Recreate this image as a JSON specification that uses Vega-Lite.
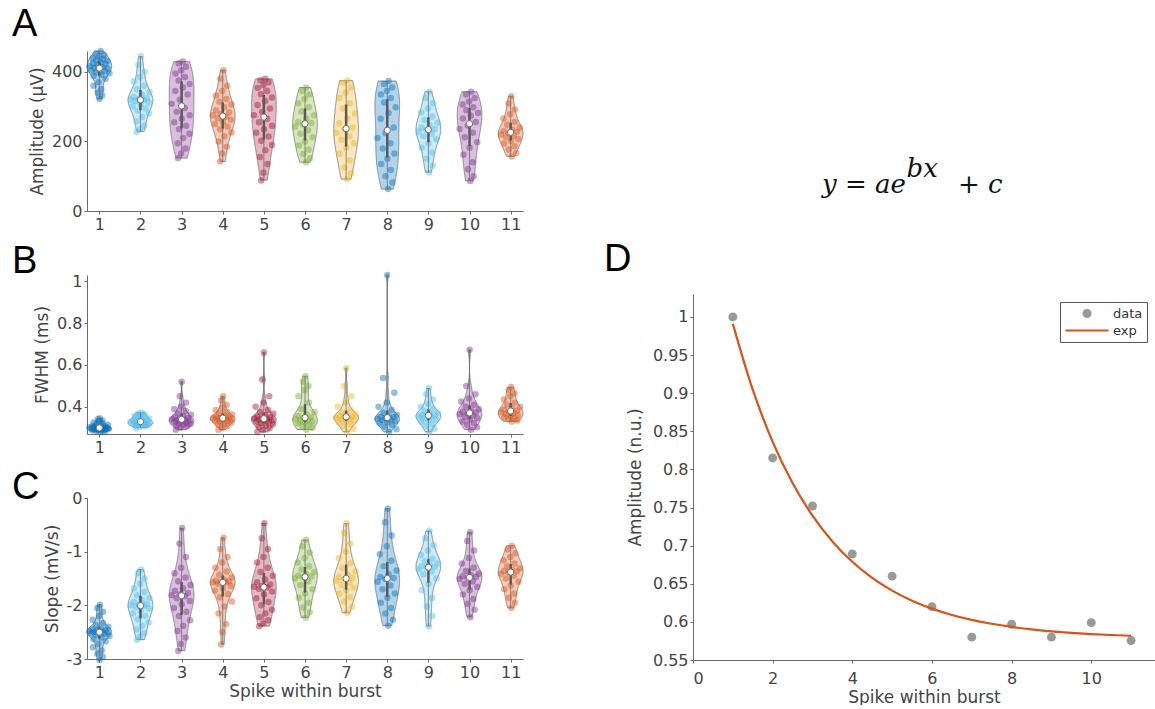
{
"$schema": "https://vega.github.io/schema/vega-lite/v6.json",
"background": "white",
"padding": {"left": 12, "top": 5, "right": 0, "bottom": 0},
"autosize": {"type": "pad"},
"config": {
  "view": {"stroke": null},
  "font": "DejaVu Sans",
  "axis": {"domainColor": "#6b6b6b", "tickColor": "#6b6b6b", "labelColor": "#444", "titleColor": "#444", "labelFont": "DejaVu Sans", "titleFont": "DejaVu Sans", "labelFontSize": 16, "titleFontSize": 17, "titleFontWeight": "normal", "grid": false, "tickSize": 3, "labelPadding": 2}
},
"datasets": {
"amp": [
{"s":1,"v":460},{"s":1,"v":452},{"s":1,"v":448},{"s":1,"v":445},{"s":1,"v":440},{"s":1,"v":437},{"s":1,"v":434},{"s":1,"v":431},{"s":1,"v":428},{"s":1,"v":425},{"s":1,"v":422},{"s":1,"v":419},{"s":1,"v":416},{"s":1,"v":413},{"s":1,"v":411},{"s":1,"v":410},{"s":1,"v":408},{"s":1,"v":405},{"s":1,"v":402},{"s":1,"v":399},{"s":1,"v":396},{"s":1,"v":392},{"s":1,"v":388},{"s":1,"v":380},{"s":1,"v":370},{"s":1,"v":360},{"s":1,"v":350},{"s":1,"v":340},{"s":1,"v":332},{"s":1,"v":322},
{"s":2,"v":445},{"s":2,"v":420},{"s":2,"v":400},{"s":2,"v":385},{"s":2,"v":372},{"s":2,"v":360},{"s":2,"v":350},{"s":2,"v":342},{"s":2,"v":335},{"s":2,"v":328},{"s":2,"v":325},{"s":2,"v":322},{"s":2,"v":320},{"s":2,"v":319},{"s":2,"v":316},{"s":2,"v":312},{"s":2,"v":307},{"s":2,"v":301},{"s":2,"v":295},{"s":2,"v":288},{"s":2,"v":280},{"s":2,"v":270},{"s":2,"v":258},{"s":2,"v":245},{"s":2,"v":235},{"s":2,"v":228},
{"s":3,"v":430},{"s":3,"v":425},{"s":3,"v":415},{"s":3,"v":405},{"s":3,"v":395},{"s":3,"v":385},{"s":3,"v":375},{"s":3,"v":365},{"s":3,"v":355},{"s":3,"v":345},{"s":3,"v":335},{"s":3,"v":320},{"s":3,"v":308},{"s":3,"v":296},{"s":3,"v":285},{"s":3,"v":275},{"s":3,"v":265},{"s":3,"v":255},{"s":3,"v":245},{"s":3,"v":235},{"s":3,"v":222},{"s":3,"v":210},{"s":3,"v":195},{"s":3,"v":180},{"s":3,"v":165},{"s":3,"v":152},
{"s":4,"v":405},{"s":4,"v":380},{"s":4,"v":360},{"s":4,"v":345},{"s":4,"v":332},{"s":4,"v":322},{"s":4,"v":314},{"s":4,"v":306},{"s":4,"v":298},{"s":4,"v":290},{"s":4,"v":284},{"s":4,"v":279},{"s":4,"v":275},{"s":4,"v":271},{"s":4,"v":267},{"s":4,"v":262},{"s":4,"v":256},{"s":4,"v":250},{"s":4,"v":243},{"s":4,"v":235},{"s":4,"v":226},{"s":4,"v":215},{"s":4,"v":200},{"s":4,"v":185},{"s":4,"v":165},{"s":4,"v":142},
{"s":5,"v":380},{"s":5,"v":376},{"s":5,"v":370},{"s":5,"v":362},{"s":5,"v":354},{"s":5,"v":345},{"s":5,"v":336},{"s":5,"v":326},{"s":5,"v":316},{"s":5,"v":305},{"s":5,"v":295},{"s":5,"v":285},{"s":5,"v":275},{"s":5,"v":265},{"s":5,"v":255},{"s":5,"v":245},{"s":5,"v":235},{"s":5,"v":225},{"s":5,"v":214},{"s":5,"v":202},{"s":5,"v":190},{"s":5,"v":175},{"s":5,"v":155},{"s":5,"v":135},{"s":5,"v":110},{"s":5,"v":88},
{"s":6,"v":355},{"s":6,"v":345},{"s":6,"v":335},{"s":6,"v":322},{"s":6,"v":310},{"s":6,"v":298},{"s":6,"v":286},{"s":6,"v":275},{"s":6,"v":265},{"s":6,"v":256},{"s":6,"v":253},{"s":6,"v":249},{"s":6,"v":242},{"s":6,"v":232},{"s":6,"v":222},{"s":6,"v":212},{"s":6,"v":200},{"s":6,"v":188},{"s":6,"v":176},{"s":6,"v":164},{"s":6,"v":152},{"s":6,"v":140},
{"s":7,"v":375},{"s":7,"v":368},{"s":7,"v":355},{"s":7,"v":340},{"s":7,"v":325},{"s":7,"v":310},{"s":7,"v":295},{"s":7,"v":280},{"s":7,"v":266},{"s":7,"v":252},{"s":7,"v":240},{"s":7,"v":234},{"s":7,"v":225},{"s":7,"v":215},{"s":7,"v":205},{"s":7,"v":195},{"s":7,"v":182},{"s":7,"v":165},{"s":7,"v":145},{"s":7,"v":125},{"s":7,"v":108},{"s":7,"v":91},
{"s":8,"v":374},{"s":8,"v":365},{"s":8,"v":355},{"s":8,"v":345},{"s":8,"v":335},{"s":8,"v":325},{"s":8,"v":312},{"s":8,"v":298},{"s":8,"v":282},{"s":8,"v":265},{"s":8,"v":240},{"s":8,"v":224},{"s":8,"v":210},{"s":8,"v":195},{"s":8,"v":180},{"s":8,"v":165},{"s":8,"v":150},{"s":8,"v":135},{"s":8,"v":118},{"s":8,"v":100},{"s":8,"v":82},{"s":8,"v":63},
{"s":9,"v":343},{"s":9,"v":325},{"s":9,"v":310},{"s":9,"v":295},{"s":9,"v":283},{"s":9,"v":272},{"s":9,"v":262},{"s":9,"v":254},{"s":9,"v":246},{"s":9,"v":240},{"s":9,"v":236},{"s":9,"v":232},{"s":9,"v":228},{"s":9,"v":222},{"s":9,"v":215},{"s":9,"v":206},{"s":9,"v":195},{"s":9,"v":182},{"s":9,"v":168},{"s":9,"v":150},{"s":9,"v":130},{"s":9,"v":111},
{"s":10,"v":343},{"s":10,"v":335},{"s":10,"v":325},{"s":10,"v":315},{"s":10,"v":306},{"s":10,"v":298},{"s":10,"v":290},{"s":10,"v":282},{"s":10,"v":274},{"s":10,"v":266},{"s":10,"v":256},{"s":10,"v":246},{"s":10,"v":236},{"s":10,"v":225},{"s":10,"v":212},{"s":10,"v":198},{"s":10,"v":182},{"s":10,"v":162},{"s":10,"v":140},{"s":10,"v":120},{"s":10,"v":100},{"s":10,"v":86},
{"s":11,"v":330},{"s":11,"v":310},{"s":11,"v":292},{"s":11,"v":278},{"s":11,"v":266},{"s":11,"v":256},{"s":11,"v":248},{"s":11,"v":240},{"s":11,"v":234},{"s":11,"v":230},{"s":11,"v":228},{"s":11,"v":224},{"s":11,"v":220},{"s":11,"v":216},{"s":11,"v":212},{"s":11,"v":207},{"s":11,"v":201},{"s":11,"v":194},{"s":11,"v":186},{"s":11,"v":177},{"s":11,"v":167},{"s":11,"v":157}
],
"fwhm": [
{"s":1,"v":0.345},{"s":1,"v":0.34},{"s":1,"v":0.335},{"s":1,"v":0.33},{"s":1,"v":0.325},{"s":1,"v":0.32},{"s":1,"v":0.317},{"s":1,"v":0.314},{"s":1,"v":0.311},{"s":1,"v":0.308},{"s":1,"v":0.306},{"s":1,"v":0.304},{"s":1,"v":0.302},{"s":1,"v":0.301},{"s":1,"v":0.3},{"s":1,"v":0.299},{"s":1,"v":0.298},{"s":1,"v":0.297},{"s":1,"v":0.296},{"s":1,"v":0.295},{"s":1,"v":0.294},{"s":1,"v":0.293},{"s":1,"v":0.292},{"s":1,"v":0.291},{"s":1,"v":0.29},{"s":1,"v":0.288},{"s":1,"v":0.286},{"s":1,"v":0.284},{"s":1,"v":0.282},{"s":1,"v":0.28},
{"s":2,"v":0.372},{"s":2,"v":0.368},{"s":2,"v":0.364},{"s":2,"v":0.36},{"s":2,"v":0.356},{"s":2,"v":0.352},{"s":2,"v":0.348},{"s":2,"v":0.344},{"s":2,"v":0.34},{"s":2,"v":0.337},{"s":2,"v":0.334},{"s":2,"v":0.332},{"s":2,"v":0.33},{"s":2,"v":0.328},{"s":2,"v":0.326},{"s":2,"v":0.324},{"s":2,"v":0.322},{"s":2,"v":0.32},{"s":2,"v":0.318},{"s":2,"v":0.316},{"s":2,"v":0.314},{"s":2,"v":0.312},{"s":2,"v":0.31},{"s":2,"v":0.307},{"s":2,"v":0.304},{"s":2,"v":0.3},
{"s":3,"v":0.52},{"s":3,"v":0.45},{"s":3,"v":0.42},{"s":3,"v":0.4},{"s":3,"v":0.39},{"s":3,"v":0.38},{"s":3,"v":0.37},{"s":3,"v":0.362},{"s":3,"v":0.356},{"s":3,"v":0.35},{"s":3,"v":0.346},{"s":3,"v":0.343},{"s":3,"v":0.341},{"s":3,"v":0.339},{"s":3,"v":0.336},{"s":3,"v":0.333},{"s":3,"v":0.33},{"s":3,"v":0.327},{"s":3,"v":0.324},{"s":3,"v":0.321},{"s":3,"v":0.318},{"s":3,"v":0.315},{"s":3,"v":0.311},{"s":3,"v":0.307},{"s":3,"v":0.3},{"s":3,"v":0.29},
{"s":4,"v":0.45},{"s":4,"v":0.43},{"s":4,"v":0.41},{"s":4,"v":0.395},{"s":4,"v":0.385},{"s":4,"v":0.376},{"s":4,"v":0.369},{"s":4,"v":0.363},{"s":4,"v":0.358},{"s":4,"v":0.354},{"s":4,"v":0.35},{"s":4,"v":0.348},{"s":4,"v":0.347},{"s":4,"v":0.345},{"s":4,"v":0.343},{"s":4,"v":0.341},{"s":4,"v":0.338},{"s":4,"v":0.335},{"s":4,"v":0.332},{"s":4,"v":0.329},{"s":4,"v":0.325},{"s":4,"v":0.32},{"s":4,"v":0.315},{"s":4,"v":0.308},{"s":4,"v":0.3},{"s":4,"v":0.29},
{"s":5,"v":0.66},{"s":5,"v":0.53},{"s":5,"v":0.45},{"s":5,"v":0.42},{"s":5,"v":0.4},{"s":5,"v":0.385},{"s":5,"v":0.375},{"s":5,"v":0.367},{"s":5,"v":0.36},{"s":5,"v":0.354},{"s":5,"v":0.349},{"s":5,"v":0.346},{"s":5,"v":0.344},{"s":5,"v":0.342},{"s":5,"v":0.339},{"s":5,"v":0.336},{"s":5,"v":0.333},{"s":5,"v":0.33},{"s":5,"v":0.326},{"s":5,"v":0.322},{"s":5,"v":0.317},{"s":5,"v":0.311},{"s":5,"v":0.304},{"s":5,"v":0.297},{"s":5,"v":0.289},{"s":5,"v":0.28},
{"s":6,"v":0.547},{"s":6,"v":0.52},{"s":6,"v":0.5},{"s":6,"v":0.48},{"s":6,"v":0.45},{"s":6,"v":0.42},{"s":6,"v":0.39},{"s":6,"v":0.375},{"s":6,"v":0.365},{"s":6,"v":0.356},{"s":6,"v":0.35},{"s":6,"v":0.346},{"s":6,"v":0.342},{"s":6,"v":0.338},{"s":6,"v":0.334},{"s":6,"v":0.33},{"s":6,"v":0.325},{"s":6,"v":0.32},{"s":6,"v":0.314},{"s":6,"v":0.307},{"s":6,"v":0.3},{"s":6,"v":0.29},
{"s":7,"v":0.586},{"s":7,"v":0.5},{"s":7,"v":0.45},{"s":7,"v":0.42},{"s":7,"v":0.4},{"s":7,"v":0.385},{"s":7,"v":0.373},{"s":7,"v":0.365},{"s":7,"v":0.36},{"s":7,"v":0.356},{"s":7,"v":0.354},{"s":7,"v":0.35},{"s":7,"v":0.347},{"s":7,"v":0.344},{"s":7,"v":0.34},{"s":7,"v":0.336},{"s":7,"v":0.331},{"s":7,"v":0.325},{"s":7,"v":0.318},{"s":7,"v":0.308},{"s":7,"v":0.295},{"s":7,"v":0.28},
{"s":8,"v":1.03},{"s":8,"v":0.538},{"s":8,"v":0.467},{"s":8,"v":0.42},{"s":8,"v":0.4},{"s":8,"v":0.385},{"s":8,"v":0.372},{"s":8,"v":0.362},{"s":8,"v":0.356},{"s":8,"v":0.352},{"s":8,"v":0.35},{"s":8,"v":0.346},{"s":8,"v":0.343},{"s":8,"v":0.34},{"s":8,"v":0.336},{"s":8,"v":0.332},{"s":8,"v":0.327},{"s":8,"v":0.321},{"s":8,"v":0.314},{"s":8,"v":0.305},{"s":8,"v":0.293},{"s":8,"v":0.28},
{"s":9,"v":0.49},{"s":9,"v":0.46},{"s":9,"v":0.435},{"s":9,"v":0.415},{"s":9,"v":0.4},{"s":9,"v":0.39},{"s":9,"v":0.38},{"s":9,"v":0.372},{"s":9,"v":0.366},{"s":9,"v":0.362},{"s":9,"v":0.36},{"s":9,"v":0.358},{"s":9,"v":0.354},{"s":9,"v":0.35},{"s":9,"v":0.345},{"s":9,"v":0.34},{"s":9,"v":0.334},{"s":9,"v":0.327},{"s":9,"v":0.318},{"s":9,"v":0.307},{"s":9,"v":0.295},{"s":9,"v":0.28},
{"s":10,"v":0.673},{"s":10,"v":0.5},{"s":10,"v":0.46},{"s":10,"v":0.44},{"s":10,"v":0.425},{"s":10,"v":0.41},{"s":10,"v":0.4},{"s":10,"v":0.39},{"s":10,"v":0.382},{"s":10,"v":0.376},{"s":10,"v":0.373},{"s":10,"v":0.369},{"s":10,"v":0.364},{"s":10,"v":0.358},{"s":10,"v":0.352},{"s":10,"v":0.345},{"s":10,"v":0.338},{"s":10,"v":0.33},{"s":10,"v":0.322},{"s":10,"v":0.313},{"s":10,"v":0.302},{"s":10,"v":0.29},
{"s":11,"v":0.495},{"s":11,"v":0.48},{"s":11,"v":0.465},{"s":11,"v":0.45},{"s":11,"v":0.435},{"s":11,"v":0.42},{"s":11,"v":0.41},{"s":11,"v":0.4},{"s":11,"v":0.393},{"s":11,"v":0.387},{"s":11,"v":0.382},{"s":11,"v":0.378},{"s":11,"v":0.374},{"s":11,"v":0.37},{"s":11,"v":0.365},{"s":11,"v":0.36},{"s":11,"v":0.355},{"s":11,"v":0.35},{"s":11,"v":0.345},{"s":11,"v":0.34},{"s":11,"v":0.335},{"s":11,"v":0.33}
],
"slope": [
{"s":1,"v":-1.99},{"s":1,"v":-2.05},{"s":1,"v":-2.12},{"s":1,"v":-2.2},{"s":1,"v":-2.27},{"s":1,"v":-2.33},{"s":1,"v":-2.37},{"s":1,"v":-2.4},{"s":1,"v":-2.43},{"s":1,"v":-2.45},{"s":1,"v":-2.46},{"s":1,"v":-2.47},{"s":1,"v":-2.48},{"s":1,"v":-2.49},{"s":1,"v":-2.495},{"s":1,"v":-2.505},{"s":1,"v":-2.51},{"s":1,"v":-2.52},{"s":1,"v":-2.53},{"s":1,"v":-2.55},{"s":1,"v":-2.57},{"s":1,"v":-2.6},{"s":1,"v":-2.63},{"s":1,"v":-2.67},{"s":1,"v":-2.72},{"s":1,"v":-2.78},{"s":1,"v":-2.84},{"s":1,"v":-2.9},{"s":1,"v":-2.96},{"s":1,"v":-3.02},
{"s":2,"v":-1.33},{"s":2,"v":-1.4},{"s":2,"v":-1.5},{"s":2,"v":-1.6},{"s":2,"v":-1.68},{"s":2,"v":-1.75},{"s":2,"v":-1.81},{"s":2,"v":-1.86},{"s":2,"v":-1.9},{"s":2,"v":-1.94},{"s":2,"v":-1.97},{"s":2,"v":-1.99},{"s":2,"v":-2.0},{"s":2,"v":-2.01},{"s":2,"v":-2.03},{"s":2,"v":-2.06},{"s":2,"v":-2.1},{"s":2,"v":-2.15},{"s":2,"v":-2.2},{"s":2,"v":-2.26},{"s":2,"v":-2.32},{"s":2,"v":-2.38},{"s":2,"v":-2.45},{"s":2,"v":-2.52},{"s":2,"v":-2.58},{"s":2,"v":-2.64},
{"s":3,"v":-0.56},{"s":3,"v":-0.85},{"s":3,"v":-1.1},{"s":3,"v":-1.3},{"s":3,"v":-1.4},{"s":3,"v":-1.48},{"s":3,"v":-1.55},{"s":3,"v":-1.62},{"s":3,"v":-1.68},{"s":3,"v":-1.73},{"s":3,"v":-1.77},{"s":3,"v":-1.8},{"s":3,"v":-1.81},{"s":3,"v":-1.83},{"s":3,"v":-1.87},{"s":3,"v":-1.92},{"s":3,"v":-1.98},{"s":3,"v":-2.05},{"s":3,"v":-2.12},{"s":3,"v":-2.2},{"s":3,"v":-2.28},{"s":3,"v":-2.38},{"s":3,"v":-2.48},{"s":3,"v":-2.6},{"s":3,"v":-2.72},{"s":3,"v":-2.85},
{"s":4,"v":-0.74},{"s":4,"v":-0.95},{"s":4,"v":-1.1},{"s":4,"v":-1.2},{"s":4,"v":-1.3},{"s":4,"v":-1.37},{"s":4,"v":-1.43},{"s":4,"v":-1.48},{"s":4,"v":-1.52},{"s":4,"v":-1.54},{"s":4,"v":-1.555},{"s":4,"v":-1.565},{"s":4,"v":-1.57},{"s":4,"v":-1.575},{"s":4,"v":-1.6},{"s":4,"v":-1.64},{"s":4,"v":-1.68},{"s":4,"v":-1.73},{"s":4,"v":-1.79},{"s":4,"v":-1.85},{"s":4,"v":-1.93},{"s":4,"v":-2.02},{"s":4,"v":-2.15},{"s":4,"v":-2.35},{"s":4,"v":-2.5},{"s":4,"v":-2.73},
{"s":5,"v":-0.47},{"s":5,"v":-0.75},{"s":5,"v":-0.95},{"s":5,"v":-1.1},{"s":5,"v":-1.2},{"s":5,"v":-1.3},{"s":5,"v":-1.38},{"s":5,"v":-1.45},{"s":5,"v":-1.52},{"s":5,"v":-1.57},{"s":5,"v":-1.61},{"s":5,"v":-1.64},{"s":5,"v":-1.655},{"s":5,"v":-1.665},{"s":5,"v":-1.69},{"s":5,"v":-1.74},{"s":5,"v":-1.8},{"s":5,"v":-1.87},{"s":5,"v":-1.94},{"s":5,"v":-2.0},{"s":5,"v":-2.08},{"s":5,"v":-2.15},{"s":5,"v":-2.22},{"s":5,"v":-2.28},{"s":5,"v":-2.34},{"s":5,"v":-2.39},
{"s":6,"v":-0.78},{"s":6,"v":-0.9},{"s":6,"v":-1.02},{"s":6,"v":-1.12},{"s":6,"v":-1.2},{"s":6,"v":-1.27},{"s":6,"v":-1.33},{"s":6,"v":-1.38},{"s":6,"v":-1.42},{"s":6,"v":-1.45},{"s":6,"v":-1.465},{"s":6,"v":-1.475},{"s":6,"v":-1.5},{"s":6,"v":-1.55},{"s":6,"v":-1.62},{"s":6,"v":-1.7},{"s":6,"v":-1.78},{"s":6,"v":-1.86},{"s":6,"v":-1.95},{"s":6,"v":-2.04},{"s":6,"v":-2.13},{"s":6,"v":-2.23},
{"s":7,"v":-0.47},{"s":7,"v":-0.65},{"s":7,"v":-0.85},{"s":7,"v":-1.0},{"s":7,"v":-1.12},{"s":7,"v":-1.22},{"s":7,"v":-1.3},{"s":7,"v":-1.37},{"s":7,"v":-1.43},{"s":7,"v":-1.47},{"s":7,"v":-1.49},{"s":7,"v":-1.51},{"s":7,"v":-1.54},{"s":7,"v":-1.58},{"s":7,"v":-1.62},{"s":7,"v":-1.67},{"s":7,"v":-1.72},{"s":7,"v":-1.78},{"s":7,"v":-1.85},{"s":7,"v":-1.93},{"s":7,"v":-2.03},{"s":7,"v":-2.14},
{"s":8,"v":-0.2},{"s":8,"v":-0.45},{"s":8,"v":-0.7},{"s":8,"v":-0.9},{"s":8,"v":-1.05},{"s":8,"v":-1.17},{"s":8,"v":-1.27},{"s":8,"v":-1.35},{"s":8,"v":-1.42},{"s":8,"v":-1.47},{"s":8,"v":-1.49},{"s":8,"v":-1.51},{"s":8,"v":-1.56},{"s":8,"v":-1.63},{"s":8,"v":-1.7},{"s":8,"v":-1.78},{"s":8,"v":-1.86},{"s":8,"v":-1.95},{"s":8,"v":-2.05},{"s":8,"v":-2.15},{"s":8,"v":-2.27},{"s":8,"v":-2.38},
{"s":9,"v":-0.61},{"s":9,"v":-0.75},{"s":9,"v":-0.88},{"s":9,"v":-0.98},{"s":9,"v":-1.06},{"s":9,"v":-1.13},{"s":9,"v":-1.18},{"s":9,"v":-1.22},{"s":9,"v":-1.25},{"s":9,"v":-1.27},{"s":9,"v":-1.28},{"s":9,"v":-1.3},{"s":9,"v":-1.33},{"s":9,"v":-1.37},{"s":9,"v":-1.42},{"s":9,"v":-1.5},{"s":9,"v":-1.6},{"s":9,"v":-1.72},{"s":9,"v":-1.86},{"s":9,"v":-2.02},{"s":9,"v":-2.2},{"s":9,"v":-2.39},
{"s":10,"v":-0.64},{"s":10,"v":-0.8},{"s":10,"v":-0.98},{"s":10,"v":-1.12},{"s":10,"v":-1.22},{"s":10,"v":-1.3},{"s":10,"v":-1.36},{"s":10,"v":-1.41},{"s":10,"v":-1.44},{"s":10,"v":-1.46},{"s":10,"v":-1.47},{"s":10,"v":-1.49},{"s":10,"v":-1.51},{"s":10,"v":-1.55},{"s":10,"v":-1.6},{"s":10,"v":-1.66},{"s":10,"v":-1.72},{"s":10,"v":-1.8},{"s":10,"v":-1.88},{"s":10,"v":-1.97},{"s":10,"v":-2.08},{"s":10,"v":-2.22},
{"s":11,"v":-0.89},{"s":11,"v":-0.96},{"s":11,"v":-1.03},{"s":11,"v":-1.1},{"s":11,"v":-1.16},{"s":11,"v":-1.22},{"s":11,"v":-1.27},{"s":11,"v":-1.31},{"s":11,"v":-1.34},{"s":11,"v":-1.36},{"s":11,"v":-1.37},{"s":11,"v":-1.39},{"s":11,"v":-1.41},{"s":11,"v":-1.45},{"s":11,"v":-1.5},{"s":11,"v":-1.56},{"s":11,"v":-1.63},{"s":11,"v":-1.7},{"s":11,"v":-1.78},{"s":11,"v":-1.86},{"s":11,"v":-1.95},{"s":11,"v":-2.05}
],
"dpts": [
{"x":1,"y":1.0},{"x":2,"y":0.815},{"x":3,"y":0.752},{"x":4,"y":0.689},{"x":5,"y":0.66},{"x":6,"y":0.62},{"x":7,"y":0.58},{"x":8,"y":0.597},{"x":9,"y":0.58},{"x":10,"y":0.599},{"x":11,"y":0.5755}
],
"fit": [
{"x":1,"y":0.991},{"x":1.5,"y":0.9045},{"x":2,"y":0.8361},{"x":2.5,"y":0.7821},{"x":3,"y":0.7393},{"x":3.5,"y":0.7055},{"x":4,"y":0.6788},{"x":4.5,"y":0.6577},{"x":5,"y":0.641},{"x":5.5,"y":0.6278},{"x":6,"y":0.6174},{"x":6.5,"y":0.6091},{"x":7,"y":0.6026},{"x":7.5,"y":0.5975},{"x":8,"y":0.5934},{"x":8.5,"y":0.5901},{"x":9,"y":0.5876},{"x":9.5,"y":0.5856},{"x":10,"y":0.584},{"x":10.5,"y":0.5828},{"x":11,"y":0.5818}
]
},
"hconcat": [
{
"vconcat": [
{
"width": 436, "height": 160,
"title": {"text": "A", "anchor": "start", "frame": "group", "dx": -75, "offset": 4, "fontSize": 38, "font": "Liberation Sans", "fontWeight": "normal", "color": "#000"},
"data": {"name": "amp"},
"encoding": {"color": {"field": "s", "type": "nominal", "scale": {"domain": [1,2,3,4,5,6,7,8,9,10,11], "range": ["#0072BD","#4DBEEE","#7E2F8E","#D95319","#A2142F","#77AC30","#EDB120","#0072BD","#4DBEEE","#7E2F8E","#D95319"]}, "legend": null}},
"layer": [
{"transform": [{"joinaggregate": [{"op": "min", "field": "v", "as": "lo"}, {"op": "max", "field": "v", "as": "hi"}], "groupby": ["s"]}, {"density": "v", "groupby": ["s", "lo", "hi"], "steps": 400, "as": ["v", "d"]}, {"filter": "datum.v >= datum.lo && datum.v <= datum.hi"}, {"joinaggregate": [{"op": "max", "field": "d", "as": "dm"}], "groupby": ["s"]}, {"calculate": "datum.s - 0.3*datum.d/datum.dm", "as": "xl"}, {"calculate": "datum.s + 0.3*datum.d/datum.dm", "as": "xr"}],
 "mark": {"type": "area", "orient": "horizontal", "fillOpacity": 0.3, "stroke": "#6e6e6e", "strokeWidth": 0.8},
 "encoding": {"y": {"field": "v", "type": "quantitative", "title": "Amplitude (μV)", "scale": {"domain": [0, 460], "nice": false}, "axis": {"values": [0,100,200,300,400], "titlePadding": 5}}, "x": {"field": "xl", "type": "quantitative", "title": null, "scale": {"domain": [0.7, 11.3], "nice": false, "zero": false}, "axis": {"values": [1,2,3,4,5,6,7,8,9,10,11], "format": "d"}}, "x2": {"field": "xr"}}},
{"transform": [{"window": [{"op": "row_number", "as": "rn"}], "groupby": ["s"]}, {"joinaggregate": [{"op": "mean", "field": "v", "as": "mu"}, {"op": "stdev", "field": "v", "as": "sd"}], "groupby": ["s"]}, {"calculate": "datum.s + 0.26*(2*((datum.rn*0.618034)%1)-1)*exp(-0.5*pow((datum.v-datum.mu)/(1.3*datum.sd),2))", "as": "xj"}],
 "mark": {"type": "circle", "size": 42, "opacity": 0.45},
 "encoding": {"x": {"field": "xj", "type": "quantitative", "title": null}, "y": {"field": "v", "type": "quantitative", "title": "Amplitude (μV)"}}},
{"transform": [{"aggregate": [{"op": "min", "field": "v", "as": "lo"}, {"op": "max", "field": "v", "as": "hi"}], "groupby": ["s"]}],
 "mark": {"type": "rule", "strokeWidth": 0.8},
 "encoding": {"x": {"field": "s", "type": "quantitative", "title": null}, "y": {"field": "lo", "type": "quantitative", "title": "Amplitude (μV)"}, "y2": {"field": "hi"}, "color": {"value": "#6e6e6e"}}},
{"transform": [{"aggregate": [{"op": "q1", "field": "v", "as": "q1"}, {"op": "q3", "field": "v", "as": "q3"}], "groupby": ["s"]}],
 "mark": {"type": "rule", "strokeWidth": 2.5},
 "encoding": {"x": {"field": "s", "type": "quantitative", "title": null}, "y": {"field": "q1", "type": "quantitative", "title": "Amplitude (μV)"}, "y2": {"field": "q3"}, "color": {"value": "#5a5a5a"}}},
{"transform": [{"aggregate": [{"op": "median", "field": "v", "as": "md"}], "groupby": ["s"]}],
 "mark": {"type": "circle", "size": 40, "opacity": 1, "stroke": "#6e6e6e", "strokeWidth": 1},
 "encoding": {"x": {"field": "s", "type": "quantitative", "title": null}, "y": {"field": "md", "type": "quantitative", "title": "Amplitude (μV)"}, "color": {"value": "#ffffff"}}}
]
},
{
"width": 436, "height": 159,
"title": {"text": "B", "anchor": "start", "frame": "group", "dx": -75, "offset": -9, "fontSize": 38, "font": "Liberation Sans", "fontWeight": "normal", "color": "#000"},
"data": {"name": "fwhm"},
"encoding": {"color": {"field": "s", "type": "nominal", "scale": {"domain": [1,2,3,4,5,6,7,8,9,10,11], "range": ["#0072BD","#4DBEEE","#7E2F8E","#D95319","#A2142F","#77AC30","#EDB120","#0072BD","#4DBEEE","#7E2F8E","#D95319"]}, "legend": null}},
"layer": [
{"transform": [{"joinaggregate": [{"op": "min", "field": "v", "as": "lo"}, {"op": "max", "field": "v", "as": "hi"}], "groupby": ["s"]}, {"density": "v", "groupby": ["s", "lo", "hi"], "steps": 400, "as": ["v", "d"]}, {"filter": "datum.v >= datum.lo && datum.v <= datum.hi"}, {"joinaggregate": [{"op": "max", "field": "d", "as": "dm"}], "groupby": ["s"]}, {"calculate": "datum.s - 0.3*datum.d/datum.dm", "as": "xl"}, {"calculate": "datum.s + 0.3*datum.d/datum.dm", "as": "xr"}],
 "mark": {"type": "area", "orient": "horizontal", "fillOpacity": 0.3, "stroke": "#6e6e6e", "strokeWidth": 0.8},
 "encoding": {"y": {"field": "v", "type": "quantitative", "title": "FWHM (ms)", "scale": {"domain": [0.27, 1.03], "nice": false, "zero": false}, "axis": {"values": [0.4,0.6,0.8,1], "format": ".1~f", "titlePadding": 5}}, "x": {"field": "xl", "type": "quantitative", "title": null, "scale": {"domain": [0.7, 11.3], "nice": false, "zero": false}, "axis": {"values": [1,2,3,4,5,6,7,8,9,10,11], "format": "d"}}, "x2": {"field": "xr"}}},
{"transform": [{"window": [{"op": "row_number", "as": "rn"}], "groupby": ["s"]}, {"joinaggregate": [{"op": "mean", "field": "v", "as": "mu"}, {"op": "stdev", "field": "v", "as": "sd"}], "groupby": ["s"]}, {"calculate": "datum.s + 0.26*(2*((datum.rn*0.618034)%1)-1)*exp(-0.5*pow((datum.v-datum.mu)/(1.3*datum.sd),2))", "as": "xj"}],
 "mark": {"type": "circle", "size": 42, "opacity": 0.45},
 "encoding": {"x": {"field": "xj", "type": "quantitative", "title": null}, "y": {"field": "v", "type": "quantitative", "title": "FWHM (ms)"}}},
{"transform": [{"aggregate": [{"op": "min", "field": "v", "as": "lo"}, {"op": "max", "field": "v", "as": "hi"}], "groupby": ["s"]}],
 "mark": {"type": "rule", "strokeWidth": 0.8},
 "encoding": {"x": {"field": "s", "type": "quantitative", "title": null}, "y": {"field": "lo", "type": "quantitative", "title": "FWHM (ms)"}, "y2": {"field": "hi"}, "color": {"value": "#6e6e6e"}}},
{"transform": [{"aggregate": [{"op": "q1", "field": "v", "as": "q1"}, {"op": "q3", "field": "v", "as": "q3"}], "groupby": ["s"]}],
 "mark": {"type": "rule", "strokeWidth": 2.5},
 "encoding": {"x": {"field": "s", "type": "quantitative", "title": null}, "y": {"field": "q1", "type": "quantitative", "title": "FWHM (ms)"}, "y2": {"field": "q3"}, "color": {"value": "#5a5a5a"}}},
{"transform": [{"aggregate": [{"op": "median", "field": "v", "as": "md"}], "groupby": ["s"]}],
 "mark": {"type": "circle", "size": 40, "opacity": 1, "stroke": "#6e6e6e", "strokeWidth": 1},
 "encoding": {"x": {"field": "s", "type": "quantitative", "title": null}, "y": {"field": "md", "type": "quantitative", "title": "FWHM (ms)"}, "color": {"value": "#ffffff"}}}
]
},
{
"width": 436, "height": 161,
"title": {"text": "C", "anchor": "start", "frame": "group", "dx": -75, "offset": -17, "fontSize": 38, "font": "Liberation Sans", "fontWeight": "normal", "color": "#000"},
"data": {"name": "slope"},
"encoding": {"color": {"field": "s", "type": "nominal", "scale": {"domain": [1,2,3,4,5,6,7,8,9,10,11], "range": ["#0072BD","#4DBEEE","#7E2F8E","#D95319","#A2142F","#77AC30","#EDB120","#0072BD","#4DBEEE","#7E2F8E","#D95319"]}, "legend": null}},
"layer": [
{"transform": [{"joinaggregate": [{"op": "min", "field": "v", "as": "lo"}, {"op": "max", "field": "v", "as": "hi"}], "groupby": ["s"]}, {"density": "v", "groupby": ["s", "lo", "hi"], "steps": 400, "as": ["v", "d"]}, {"filter": "datum.v >= datum.lo && datum.v <= datum.hi"}, {"joinaggregate": [{"op": "max", "field": "d", "as": "dm"}], "groupby": ["s"]}, {"calculate": "datum.s - 0.3*datum.d/datum.dm", "as": "xl"}, {"calculate": "datum.s + 0.3*datum.d/datum.dm", "as": "xr"}],
 "mark": {"type": "area", "orient": "horizontal", "fillOpacity": 0.3, "stroke": "#6e6e6e", "strokeWidth": 0.8},
 "encoding": {"y": {"field": "v", "type": "quantitative", "title": "Slope (mV/s)", "scale": {"domain": [-3, 0], "nice": false, "zero": false}, "axis": {"values": [-3,-2,-1,0], "labelExpr": "datum.value < 0 ? '-' + abs(datum.value) : '' + datum.value", "titlePadding": 5}}, "x": {"field": "xl", "type": "quantitative", "title": "Spike within burst", "scale": {"domain": [0.7, 11.3], "nice": false, "zero": false}, "axis": {"values": [1,2,3,4,5,6,7,8,9,10,11], "format": "d", "titlePadding": 3}}, "x2": {"field": "xr"}}},
{"transform": [{"window": [{"op": "row_number", "as": "rn"}], "groupby": ["s"]}, {"joinaggregate": [{"op": "mean", "field": "v", "as": "mu"}, {"op": "stdev", "field": "v", "as": "sd"}], "groupby": ["s"]}, {"calculate": "datum.s + 0.26*(2*((datum.rn*0.618034)%1)-1)*exp(-0.5*pow((datum.v-datum.mu)/(1.3*datum.sd),2))", "as": "xj"}],
 "mark": {"type": "circle", "size": 42, "opacity": 0.45},
 "encoding": {"x": {"field": "xj", "type": "quantitative", "title": "Spike within burst"}, "y": {"field": "v", "type": "quantitative", "title": "Slope (mV/s)"}}},
{"transform": [{"aggregate": [{"op": "min", "field": "v", "as": "lo"}, {"op": "max", "field": "v", "as": "hi"}], "groupby": ["s"]}],
 "mark": {"type": "rule", "strokeWidth": 0.8},
 "encoding": {"x": {"field": "s", "type": "quantitative", "title": "Spike within burst"}, "y": {"field": "lo", "type": "quantitative", "title": "Slope (mV/s)"}, "y2": {"field": "hi"}, "color": {"value": "#6e6e6e"}}},
{"transform": [{"aggregate": [{"op": "q1", "field": "v", "as": "q1"}, {"op": "q3", "field": "v", "as": "q3"}], "groupby": ["s"]}],
 "mark": {"type": "rule", "strokeWidth": 2.5},
 "encoding": {"x": {"field": "s", "type": "quantitative", "title": "Spike within burst"}, "y": {"field": "q1", "type": "quantitative", "title": "Slope (mV/s)"}, "y2": {"field": "q3"}, "color": {"value": "#5a5a5a"}}},
{"transform": [{"aggregate": [{"op": "median", "field": "v", "as": "md"}], "groupby": ["s"]}],
 "mark": {"type": "circle", "size": 40, "opacity": 1, "stroke": "#6e6e6e", "strokeWidth": 1},
 "encoding": {"x": {"field": "s", "type": "quantitative", "title": "Spike within burst"}, "y": {"field": "md", "type": "quantitative", "title": "Slope (mV/s)"}, "color": {"value": "#ffffff"}}}
]
}
],
"spacing": 64,
"bounds": "flush"
},
{
"vconcat": [
{
"width": 462, "height": 150,
"data": {"values": [{}]},
"mark": {"type": "point", "opacity": 0},
"encoding": {},
"title": {"text": "y = ae\u2003\u2003+ c", "subtitle": "\u200b\u2003\u2003\u2003\u2005bx", "orient": "bottom", "anchor": "start", "frame": "group", "dx": 129, "offset": -29, "font": "DejaVu Serif", "fontStyle": "italic", "fontWeight": "normal", "fontSize": 26, "color": "#111", "subtitleFont": "DejaVu Serif", "subtitleFontStyle": "italic", "subtitleFontSize": 26, "subtitleColor": "#111", "subtitlePadding": -42}
},
{
"width": 462, "height": 366,
"title": {"text": "D", "anchor": "start", "frame": "group", "dx": -89, "offset": 15, "fontSize": 38, "font": "Liberation Sans", "fontWeight": "normal", "color": "#000"},
"layer": [
{"data": {"name": "dpts"},
 "mark": {"type": "circle", "size": 80, "opacity": 1},
 "encoding": {
   "x": {"field": "x", "type": "quantitative", "title": "Spike within burst", "scale": {"domain": [0, 11.6], "nice": false}, "axis": {"values": [0,2,4,6,8,10], "labelPadding": 7, "titlePadding": 3}},
   "y": {"field": "y", "type": "quantitative", "title": "Amplitude (n.u.)", "scale": {"domain": [0.55, 1.03], "nice": false, "zero": false}, "axis": {"values": [0.55,0.6,0.65,0.7,0.75,0.8,0.85,0.9,0.95,1], "format": ".2~f", "titlePadding": 8}},
   "color": {"datum": "data", "type": "nominal", "scale": {"domain": ["data", "exp"], "range": ["#999999", "#D95319"]},
     "legend": {"title": null, "orient": "top-right", "offset": 8, "strokeColor": "#555", "fillColor": "#ffffff", "padding": 4, "labelFont": "DejaVu Sans", "labelFontSize": 13, "labelColor": "#333", "rowPadding": 2, "labelOffset": 3, "clipHeight": 15,
       "encode": {"symbols": {"update": {"shape": {"signal": "datum.value === 'exp' ? 'stroke' : 'M-0.16,0A0.16,0.16,0,1,0,0.16,0A0.16,0.16,0,1,0,-0.16,0Z'"}, "size": {"value": 1850}, "strokeWidth": {"value": 2.2}, "stroke": {"signal": "datum.value === 'exp' ? '#D95319' : 'transparent'"}, "fill": {"signal": "datum.value === 'exp' ? 'transparent' : '#999999'"}, "opacity": {"value": 1}}}}}}
 }},
{"data": {"name": "fit"},
 "mark": {"type": "line", "strokeWidth": 2.2, "interpolate": "monotone"},
 "encoding": {
   "x": {"field": "x", "type": "quantitative", "title": "Spike within burst"},
   "y": {"field": "y", "type": "quantitative", "title": "Amplitude (n.u.)"},
   "color": {"datum": "exp", "type": "nominal",
     "legend": {"title": null, "orient": "top-right", "offset": 8, "strokeColor": "#555", "fillColor": "#ffffff", "padding": 4, "labelFont": "DejaVu Sans", "labelFontSize": 13, "labelColor": "#333", "rowPadding": 2, "labelOffset": 3, "clipHeight": 15,
       "encode": {"symbols": {"update": {"shape": {"signal": "datum.value === 'exp' ? 'stroke' : 'M-0.16,0A0.16,0.16,0,1,0,0.16,0A0.16,0.16,0,1,0,-0.16,0Z'"}, "size": {"value": 1850}, "strokeWidth": {"value": 2.2}, "stroke": {"signal": "datum.value === 'exp' ? '#D95319' : 'transparent'"}, "fill": {"signal": "datum.value === 'exp' ? 'transparent' : '#999999'"}, "opacity": {"value": 1}}}}}}
 }}
]
}
],
"spacing": 93,
"bounds": "flush",
"resolve": {"scale": {"color": "independent"}, "legend": {"color": "independent"}}
}
],
"spacing": 79,
"bounds": "full",
"resolve": {"scale": {"color": "independent"}, "legend": {"color": "independent"}}
}
